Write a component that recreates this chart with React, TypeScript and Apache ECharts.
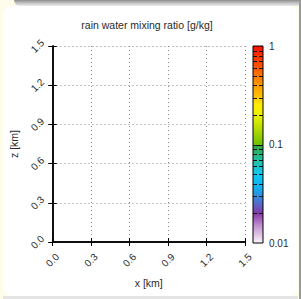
import React, { useEffect, useRef } from 'react';
import * as echarts from 'echarts';

const titleText = 'rain water mixing ratio [g/kg]';
const xName = 'x [km]';
const yName = 'z [km]';
const axisMin = 0;
const axisMax = 1.5;
const tickStep = 0.3;
const cbMin = 0.01;
const cbMax = 1;
const contourLevels = [0.02, 0.03, 0.04, 0.05, 0.06, 0.07, 0.08, 0.09, 0.1, 0.2, 0.3, 0.4, 0.5, 0.6, 0.7, 0.8, 0.9];
const colorStopValues = [1, 0.53, 0.4, 0.3, 0.25, 0.19, 0.1, 0.097, 0.07, 0.05, 0.037, 0.03, 0.024, 0.02, 0.015, 0.01];
const colorStopColors = ['#ff1000', '#ff6a00', '#ff9a00', '#ffc800', '#ffee00', '#e8f000', '#70c000', '#30a848', '#20c0a0', '#10c8f0', '#10b0f0', '#3090e0', '#6060c0', '#8838a8', '#c090d0', '#fbf4fb'];

const FONT = '"Liberation Sans", Arial, sans-serif';
const TXT = '#2a2a2a';

export default function App() {
  const ref = useRef<HTMLDivElement>(null);
  useEffect(() => {
    document.body.style.margin = '0';
    const chart = echarts.init(ref.current!, null, { renderer: 'svg' });
    const lmin = Math.log10(cbMin);
    const lmax = Math.log10(cbMax);
    const stops = colorStopValues.map((v, i) => ({
      offset: (lmax - Math.log10(v)) / (lmax - lmin),
      color: colorStopColors[i],
    }));
    const fmt = (v: number) => v.toFixed(1);
    const commonX = {
      gridIndex: 0, type: 'value', min: axisMin, max: axisMax, interval: tickStep,
    };
    const lineStyle = { color: '#000', width: 1.5 };
    const tickStyle = { color: '#000', width: 1 };
    const gridStyle = { color: '#888', type: [1, 3], width: 1 };
    const option: any = {
      animation: false,
      textStyle: { fontFamily: FONT },
      graphic: [
        {
          type: 'text', x: 147, y: 25,
          style: { text: titleText, fontSize: 10.5, fontFamily: FONT, fill: TXT, textAlign: 'center', textVerticalAlign: 'middle' },
        },
      ],
      grid: [
        { left: 49, top: 46, width: 196, height: 196 },
        { left: 253, top: 46, width: 10, height: 197 },
      ],
      xAxis: [
        {
          ...commonX, position: 'bottom',
          axisLine: { lineStyle }, axisTick: { inside: false, length: 4, lineStyle: tickStyle },
          axisLabel: { rotate: 45, align: 'center', verticalAlign: 'middle', margin: 18, fontSize: 10, color: TXT, fontFamily: FONT, formatter: fmt },
          splitLine: { show: true, lineStyle: gridStyle },
          name: xName, nameLocation: 'middle', nameGap: 35,
          nameTextStyle: { fontSize: 10.5, color: TXT, fontFamily: FONT },
        },
        {
          ...commonX, position: 'top',
          axisLine: { lineStyle }, axisTick: { inside: false, length: 4, lineStyle: tickStyle },
          axisLabel: { show: false }, splitLine: { show: false },
        },
        {
          ...commonX, position: 'bottom',
          axisLine: { show: false }, axisTick: { inside: true, length: 4, lineStyle: tickStyle },
          axisLabel: { show: false }, splitLine: { show: false },
        },
        {
          ...commonX, position: 'top',
          axisLine: { show: false }, axisTick: { inside: true, length: 4, lineStyle: tickStyle },
          axisLabel: { show: false }, splitLine: { show: false },
        },
        { gridIndex: 1, type: 'value', min: 0, max: 1, show: false },
      ],
      yAxis: [
        {
          ...commonX, position: 'left',
          axisLine: { lineStyle }, axisTick: { inside: false, length: 4, lineStyle: tickStyle },
          axisLabel: { rotate: 45, align: 'center', verticalAlign: 'middle', margin: 15, fontSize: 10, color: TXT, fontFamily: FONT, formatter: fmt },
          splitLine: { show: true, lineStyle: gridStyle },
          name: yName, nameLocation: 'middle', nameGap: 27,
          nameTextStyle: { fontSize: 10.5, color: TXT, fontFamily: FONT },
        },
        {
          ...commonX, position: 'right',
          axisLine: { lineStyle }, axisTick: { inside: false, length: 4, lineStyle: tickStyle },
          axisLabel: { show: false }, splitLine: { show: false },
        },
        {
          ...commonX, position: 'left',
          axisLine: { show: false }, axisTick: { inside: true, length: 4, lineStyle: tickStyle },
          axisLabel: { show: false }, splitLine: { show: false },
        },
        {
          ...commonX, position: 'right',
          axisLine: { show: false }, axisTick: { inside: true, length: 4, lineStyle: tickStyle },
          axisLabel: { show: false }, splitLine: { show: false },
        },
        {
          gridIndex: 1, type: 'log', logBase: 10, min: cbMin, max: cbMax, position: 'right',
          axisLine: { show: false }, axisTick: { show: false }, splitLine: { show: false },
          axisLabel: { margin: 6, fontSize: 10, color: TXT, fontFamily: FONT, formatter: (v: number) => String(+v.toPrecision(1)) },
        },
      ],
      series: [
        { type: 'scatter', xAxisIndex: 0, yAxisIndex: 0, data: [] },
        {
          type: 'custom', coordinateSystem: 'cartesian2d', xAxisIndex: 4, yAxisIndex: 4, z: 2,
          data: [[0, cbMin, 1, cbMax]],
          encode: { x: [0, 2], y: [1, 3] },
          renderItem: (params: any, api: any) => {
            const p0 = api.coord([api.value(0), api.value(3)]);
            const p1 = api.coord([api.value(2), api.value(1)]);
            return {
              type: 'rect',
              shape: { x: p0[0], y: p0[1], width: p1[0] - p0[0], height: p1[1] - p0[1] },
              style: { fill: new echarts.graphic.LinearGradient(0, 0, 0, 1, stops), stroke: '#000', lineWidth: 1 },
            };
          },
        },
        {
          type: 'custom', coordinateSystem: 'cartesian2d', xAxisIndex: 4, yAxisIndex: 4, z: 3,
          data: contourLevels.map((v) => [0, v]),
          encode: { x: 0, y: 1 },
          renderItem: (params: any, api: any) => {
            const v = api.value(1);
            const a = api.coord([0, v]);
            const b = api.coord([1, v]);
            return {
              type: 'line',
              shape: { x1: a[0], y1: Math.round(a[1]) + 0.5, x2: b[0], y2: Math.round(b[1]) + 0.5 },
              style: { stroke: '#111', lineWidth: 1, lineDash: Math.abs(v - 0.1) < 1e-9 ? null : [4, 2] },
            };
          },
        },
      ],
    };
    chart.setOption(option);
    return () => chart.dispose();
  }, []);

  return (
    <div style={{ position: 'relative', width: 301, height: 299, background: '#fdfde9', overflow: 'hidden' }}>
      <div style={{ position: 'absolute', left: 14, top: 0, width: 287, height: 6, background: 'linear-gradient(to bottom, #8c8c8c, #b8b8b8 40%, #ececec)', borderBottomLeftRadius: 6 }} />
      <div style={{ position: 'absolute', left: 3, top: 6, width: 295, height: 290, background: '#fff', borderRadius: 8 }} />
      <div style={{ position: 'absolute', left: 3, top: 296, width: 295, height: 3, background: '#e4e4e4' }} />
      <div style={{ position: 'absolute', left: 299, top: 0, width: 2, height: 299, background: '#9a9a9a' }} />
      <div ref={ref} style={{ position: 'absolute', left: 0, top: 0, width: 301, height: 299 }} />
    </div>
  );
}
